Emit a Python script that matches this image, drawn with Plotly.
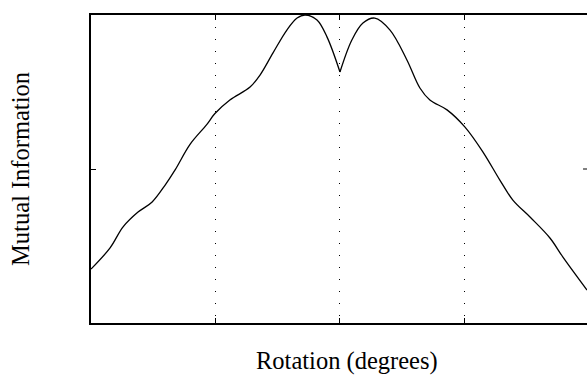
import plotly.graph_objects as go

# Data (rotation in degrees, normalized mutual information)
rotation = [-90.0, -83.1, -78.4, -73.0, -67.9, -63.2, -59.6, -54.2, -48.1, -45.2,
            -39.8, -32.5, -28.9, -24.2, -19.2, -15.5, -12.6, -8.3, -4.7, 0.0,
            4.3, 8.3, 12.6, 18.1, 24.2, 28.9, 32.5, 38.7, 45.2, 51.7,
            57.8, 62.5, 68.7, 75.9, 80.6, 89.3]
mutual_info = [0.175, 0.244, 0.312, 0.360, 0.393, 0.448, 0.497, 0.580, 0.645, 0.680,
               0.724, 0.766, 0.805, 0.877, 0.951, 0.990, 1.000, 0.984, 0.929, 0.815,
               0.919, 0.974, 0.990, 0.951, 0.854, 0.763, 0.724, 0.692, 0.636, 0.555,
               0.464, 0.399, 0.344, 0.276, 0.214, 0.107]
x_ticks = [-45, 0, 45]
y_ticks = [0.5]

FONT = "Liberation Serif"
FS = 24.5

# split at the cusp (rotation 0) so each side is smoothed but the dip stays sharp
cusp = rotation.index(0.0)
fig = go.Figure()
for xs, ys in [(rotation[:cusp + 1], mutual_info[:cusp + 1]),
               (rotation[cusp:], mutual_info[cusp:])]:
    fig.add_trace(go.Scatter(x=xs, y=ys, mode="lines",
                             line=dict(color="black", width=1.3, shape="spline", smoothing=1.0),
                             hoverinfo="skip", showlegend=False))

fig.update_layout(
    width=587, height=376,
    margin=dict(l=91, r=0, t=15, b=53),
    paper_bgcolor="white", plot_bgcolor="white",
    font=dict(family=FONT, color="black", size=FS),
    xaxis=dict(range=[-90, 89.3], tickvals=x_ticks, showticklabels=False,
               ticks="inside", ticklen=5, tickcolor="black", tickwidth=1,
               showline=True, linecolor="black", linewidth=2, mirror="ticks",
               showgrid=True, gridcolor="black", gridwidth=1, griddash="1px,11px",
               zeroline=False),
    yaxis=dict(range=[0, 1.0], tickvals=y_ticks, showticklabels=False,
               ticks="inside", ticklen=5, tickcolor="black", tickwidth=1,
               showline=True, linecolor="black", linewidth=2, mirror=False,
               showgrid=False, zeroline=False,
               title=dict(text="Mutual Information", standoff=52,
                          font=dict(family=FONT, size=FS))),
    shapes=[dict(type="line", xref="paper", yref="y", x0=0.992, x1=1.0,
                 y0=0.5, y1=0.5, line=dict(color="black", width=1))],
    annotations=[dict(text="Rotation (degrees)", xref="paper", yref="paper",
                      x=0.5, y=0, xanchor="center", yanchor="top",
                      xshift=8, yshift=-22, showarrow=False,
                      font=dict(family=FONT, size=FS))],
)

fig.write_html("out.html")
